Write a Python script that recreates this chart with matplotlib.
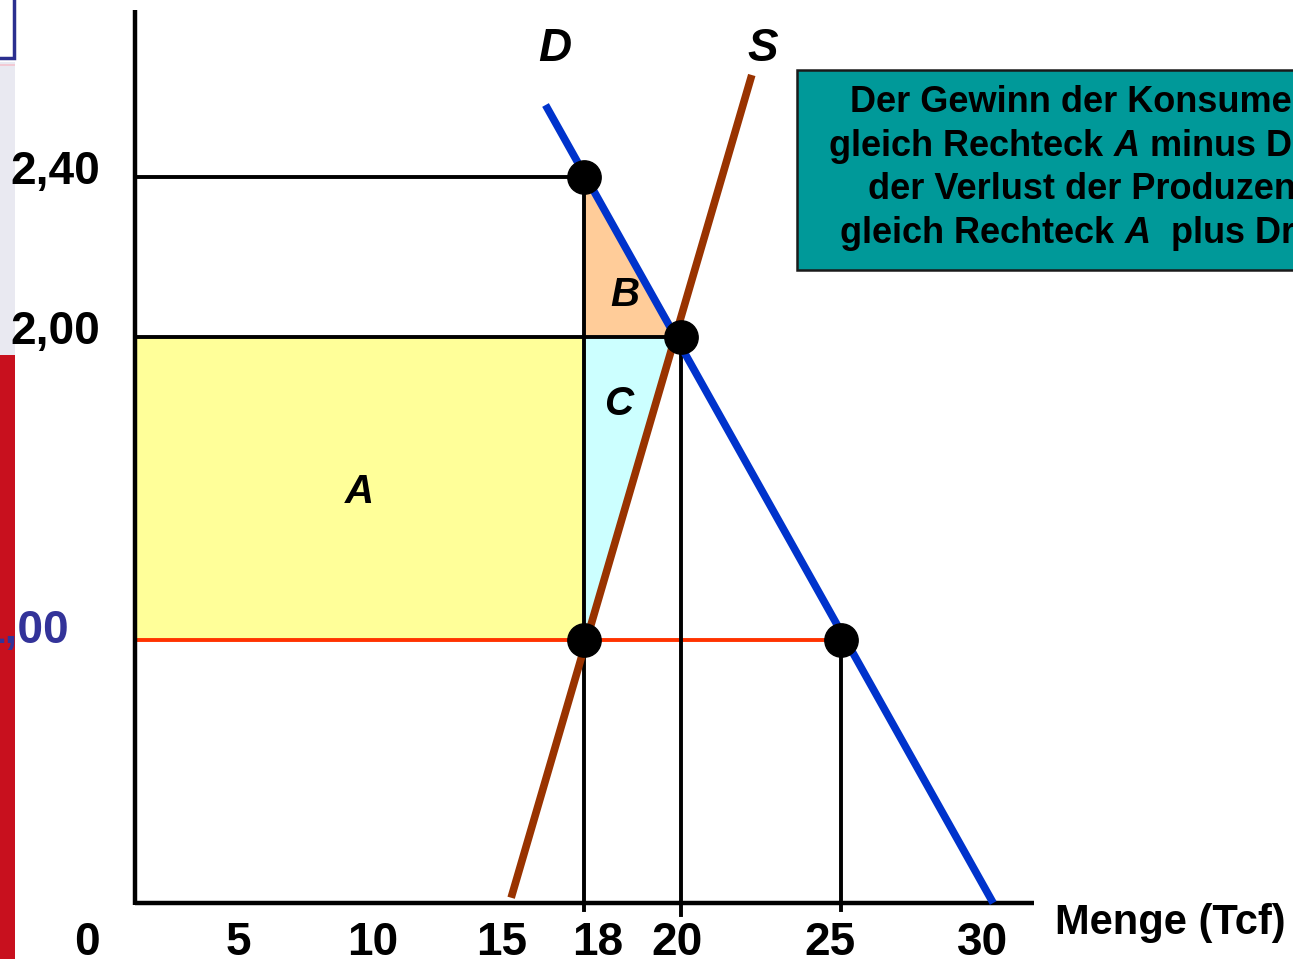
import numpy as np
import matplotlib
matplotlib.use("Agg")
import matplotlib.pyplot as plt
from matplotlib import transforms
from matplotlib.patches import Rectangle, Polygon

plt.rcParams['font.family'] = ['Liberation Sans', 'DejaVu Sans']
plt.rcParams['mathtext.fontset'] = 'custom'
plt.rcParams['mathtext.it'] = 'Liberation Sans:italic:bold'
plt.rcParams['mathtext.rm'] = 'Liberation Sans:bold'

# %% data (Erdgas, Preisobergrenze)
q_ticks = [0, 5, 10, 15, 18, 20, 25, 30]
q_tick_labels = ["0", "5", "10", "15", "18", "20", "25", "30"]
p_ticks = [2.40, 2.00, 1.00]
p_tick_labels = ["2,40", "2,00", "1,00"]

q_demand = [16.6, 30.03]     # Nachfrage D
p_demand = [2.58, 0.0]
q_supply = [15.36, 22.22]    # Angebot S
p_supply = [0.02, 2.655]

q_dots = [18, 20, 18, 25]
p_dots = [2.40, 2.00, 1.00, 1.00]

p_ceiling = 1.00
q_s, q_e, q_d = 18, 20, 25
p_e, p_high = 2.00, 2.40
q_c_corner = 19.9            # S schneidet p = 2,00

box_text = ("Der Gewinn der Konsumenten ist\n"
            "gleich Rechteck $A$ minus Dreieck $B$,\n"
            "der Verlust der Produzenten ist\n"
            "gleich Rechteck $A$  plus Dreieck $C$.")

# %% schematic axis scales (slide is not drawn to scale)
W, H = 1293, 959
x_vals = [-10, 0, 5, 10, 15, 18, 20, 25, 30, 40]
x_pix = [-71, 135, 238, 372, 500, 583, 679, 839, 990, 1290]
y_vals = [-0.5, 0, 1, 2, 2.4, 3.2]
y_pix = [H - 1034.5, H - 903, H - 640, H - 337, H - 177, H + 143]

fx = lambda v: np.interp(v, x_vals, x_pix)
fx_inv = lambda u: np.interp(u, x_pix, x_vals)
fy = lambda v: np.interp(v, y_vals, y_pix)
fy_inv = lambda u: np.interp(u, y_pix, y_vals)

fig = plt.figure(figsize=(W / 100, H / 100), dpi=100)
ax = fig.add_axes([0, 0, 1, 1])
ax.set_xscale('function', functions=(fx, fx_inv))
ax.set_yscale('function', functions=(fy, fy_inv))
ax.set_xlim(fx_inv(0), fx_inv(W))
ax.set_ylim(fy_inv(0), fy_inv(H))
ax.axis('off')

def fig_rect(x0, y0, x1, y1, **kw):
    # rectangle in pixel coords (top-left origin) on the figure
    r = Rectangle((x0 / W, 1 - y1 / H), (x1 - x0) / W, (y1 - y0) / H,
                  transform=fig.transFigure, **kw)
    fig.patches.append(r)
    return r

# %% areas
ax.add_patch(Polygon([(0, p_ceiling), (q_s, p_ceiling), (q_s, p_e), (0, p_e)],
                     closed=True, facecolor='#FFFF99', edgecolor='none', zorder=1))
ax.add_patch(Polygon([(q_s, p_high), (q_s, p_e), (q_e, p_e)],
                     closed=True, facecolor='#FFCC99', edgecolor='none', zorder=1))
ax.add_patch(Polygon([(q_s, p_e), (q_s, p_ceiling), (q_c_corner, p_e)],
                     closed=True, facecolor='#CCFFFF', edgecolor='none', zorder=1))

# %% guide lines
lw = 2.8
ax.plot([0, q_s], [p_high, p_high], color='black', lw=lw, zorder=2)
ax.plot([0, q_e], [p_e, p_e], color='black', lw=lw, zorder=2)
ax.plot([0, q_d], [p_ceiling, p_ceiling], color='#FF3300', lw=lw, zorder=2)
ax.plot([q_s, q_s], [-0.027, p_high], color='black', lw=lw, zorder=2)
ax.plot([q_e, q_e], [-0.046, p_e], color='black', lw=lw, zorder=2)
ax.plot([q_d, q_d], [-0.027, p_ceiling], color='black', lw=lw, zorder=2)

# axes
ax.plot([0, 0], [-0.008, 2.8175], color='black', lw=3.2, zorder=2, solid_capstyle='butt')
ax.plot([-0.02, 31.4], [0, 0], color='black', lw=3.2, zorder=2, solid_capstyle='butt')

# %% demand / supply
ax.plot(q_supply, p_supply, color='#993300', lw=5.5, zorder=3, solid_capstyle='butt')
ax.plot(q_demand, p_demand, color='#0033CC', lw=5.5, zorder=3, solid_capstyle='butt')
ax.plot(q_dots, p_dots, 'o', color='black', ms=24, zorder=4)

# %% labels
big = dict(fontsize=33, fontweight='bold')
ax.text(16.95, 2.72, "D", style='italic', ha='center', va='center', **big)
ax.text(22.55, 2.72, "S", style='italic', ha='center', va='center', **big)
lab = dict(fontsize=29, fontweight='bold', style='italic', ha='center', va='center', zorder=5)
ax.text(9.5, 1.49, "A", **lab)
ax.text(18.85, 2.105, "B", **lab)
ax.text(18.72, 1.78, "C", **lab)

# x tick labels (schematic offsets in pixels)
x_lab_dx = [-48, 0, 0, 0, 13, -4, -11, -10]
for q, t, dx in zip(q_ticks, q_tick_labels, x_lab_dx):
    tr = transforms.offset_copy(ax.transData, fig=fig, x=dx, y=-52, units='dots')
    ax.text(q, 0, t, transform=tr, ha='center', va='baseline', fontsize=33,
            fontweight='bold')

# y tick labels
y_lab_dx = [-35, -35, -67]
y_lab_dy = [-6.5, -6.5, -3]
y_lab_col = ['black', 'black', '#333399']
for p, t, dx, dy, c in zip(p_ticks, p_tick_labels, y_lab_dx, y_lab_dy, y_lab_col):
    tr = transforms.offset_copy(ax.transData, fig=fig, x=dx, y=dy, units='dots')
    ax.text(0, p, t, transform=tr, ha='right', va='baseline', fontsize=33,
            fontweight='bold', color=c)

fig.text(1055 / W, 1 - 923 / H, "Menge (Tcf)", ha='left', va='center',
         fontsize=30, fontweight='bold')

# %% info box
fig_rect(797, 70, 1500, 270, facecolor='#009999', edgecolor='#1A1A1A', lw=1.8)
fig.text(1135 / W, 1 - 169 / H, box_text, ha='center', va='center',
         multialignment='center', fontsize=26, fontweight='bold', linespacing=1.24)

# %% slide decoration on left edge (below the axes, so labels sit on top)
fig_rect(-5, -5, 14, 58, facecolor='white', edgecolor='#2B2F8F', lw=2.5, zorder=-1)
fig_rect(0, 62, 15, 355, facecolor='#E9E9F1', edgecolor='none', zorder=-1)
fig_rect(0, 64.5, 15, 66, facecolor='#F2C9D3', edgecolor='none', zorder=-1)
fig_rect(0, 355, 15, 960, facecolor='#C8101E', edgecolor='none', zorder=-1)

fig.savefig("out.png", dpi=100)
